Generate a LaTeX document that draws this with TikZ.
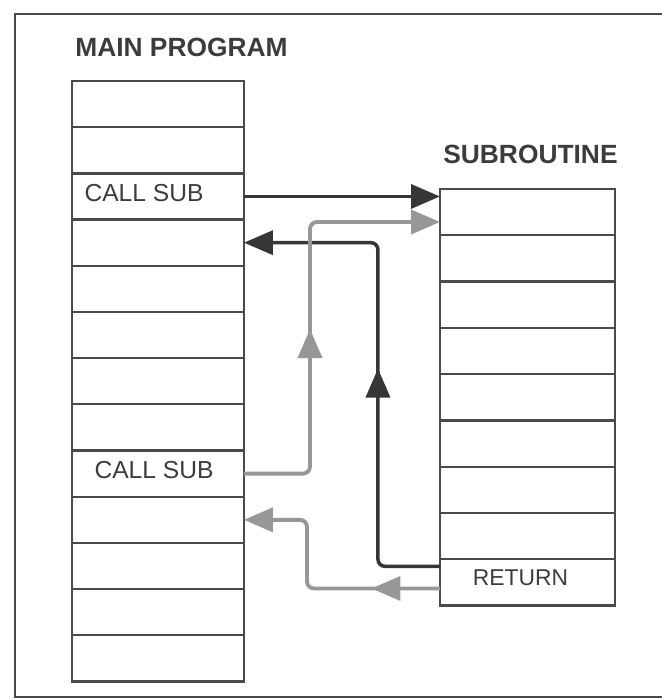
\documentclass[tikz,border=0pt]{standalone}
\usepackage{fontspec}
\setmainfont{Liberation Sans}
\usepackage{tikz}
\usetikzlibrary{arrows.meta, positioning, calc, decorations.markings}

\definecolor{inkdark}{HTML}{363636}
\definecolor{inkbox}{HTML}{4A4A4A}
\definecolor{inkgray}{HTML}{979797}
\definecolor{inktext}{HTML}{3C3C3C}

\tikzset{
  rowbox/.style={
    draw=inkbox, line width=1.3pt, inner sep=0pt, outer sep=0pt,
    minimum width=3.44cm, minimum height=0.924cm
  },
  subbox/.style={
    rowbox, minimum width=3.5cm, minimum height=0.926cm
  },
  rowtext/.style={
    font=\fontsize{14}{16}\selectfont, text=inktext, inner sep=0pt
  },
  titletext/.style={
    font=\bfseries\fontsize{15}{18}\selectfont, text=inktext,
    inner sep=0pt, anchor=west
  },
  callarrow/.style={
    -{Triangle[length=5.8mm, width=4.8mm]}, line width=2pt,
    color=inkdark, rounded corners=4pt
  },
  grayarrow/.style={
    -{Triangle[length=5.8mm, width=4.8mm]}, line width=2.2pt,
    color=inkgray, rounded corners=4pt
  },
  midtip/.style={
    postaction={decorate},
    decoration={markings, mark=at position #1 with
      {\arrow{Triangle[length=5.8mm, width=4.8mm]}}}
  },
}

\begin{document}
\begin{tikzpicture}[x=0.02cm, y=-0.02cm]
  \useasboundingbox (0,0) rectangle (662,700);

  % ── Frame ──
  \draw[inkbox, line width=1.2pt] (662,14) -- (15,14) -- (15,697) -- (662,697);

  % ── Main program ──
  \node[titletext] (maintitle) at (75,47) {MAIN PROGRAM};

  \node[rowbox, anchor=north west] (m1) at (72,81) {};
  \foreach \i [remember=\i as \j (initially 1)] in {2,...,13}
    \node[rowbox, below=0pt of m\j] (m\i) {};

  \node[rowtext] (call1) at ($(m3)+(-14,-3)$) {CALL SUB};
  \node[rowtext] (call2) at ($(m9)+(-4,-4)$) {CALL SUB};

  % ── Subroutine ──
  \node[titletext] (subtitle) at (443,154) {SUBROUTINE};

  \node[subbox, anchor=north west] (s1) at (440,189) {};
  \foreach \i [remember=\i as \j (initially 1)] in {2,...,9}
    \node[subbox, below=0pt of s\j] (s\i) {};

  \node[rowtext, font=\fontsize{13}{15}\selectfont] (ret) at ($(s9)+(-7,-5)$) {RETURN};

  % ── First call and its return ──
  \draw[callarrow] (m3.east) -- (m3.east -| s1.west);
  \draw[callarrow, midtip=0.5]
    ($(s9.north west)+(0,7)$) -| ($(m4.east)+(134,0)$) -- (m4.east);

  % ── Second call and its return ──
  \coordinate (gup) at (310,222);
  \draw[grayarrow, midtip=0.47] (m9.east) -| (gup) -- (gup -| s1.west);
  \draw[grayarrow, midtip=0.265]
    ($(s9.west)+(0,6)$) -| ($(m10.east)+(63,0)$) -- (m10.east);
\end{tikzpicture}
\end{document}
